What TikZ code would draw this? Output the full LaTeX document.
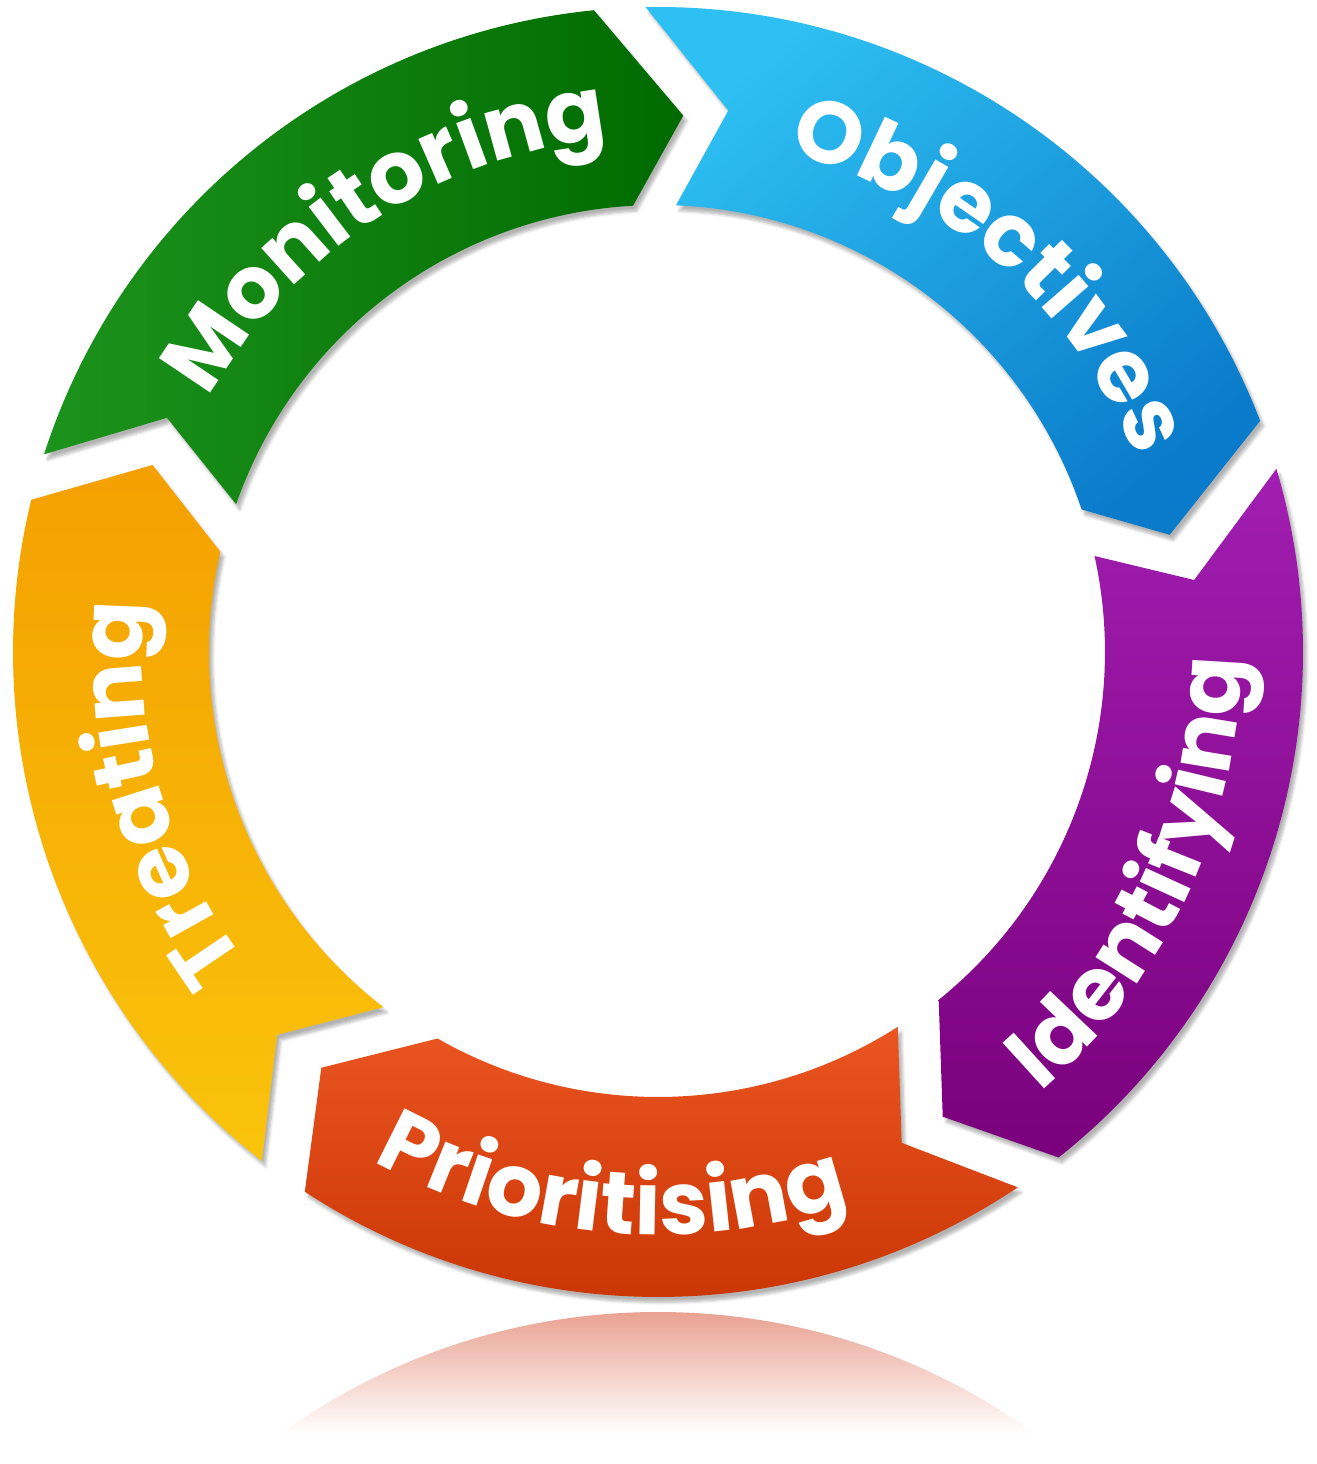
\documentclass[tikz,border=0pt]{standalone}
\usepackage{fontspec}
\setsansfont{Poppins}
\usetikzlibrary{decorations.text,shadows.blur}

\definecolor{monA}{HTML}{1C931C}
\definecolor{monB}{HTML}{006A00}
\definecolor{objA}{HTML}{2EC0F2}
\definecolor{objB}{HTML}{0A7BCA}
\definecolor{idfA}{HTML}{A11EB1}
\definecolor{idfB}{HTML}{7A007D}
\definecolor{priA}{HTML}{EA5522}
\definecolor{priB}{HTML}{C63200}
\definecolor{trtA}{HTML}{F4A000}
\definecolor{trtB}{HTML}{FAC40C}
\definecolor{reflA}{HTML}{E9A292}

\begin{document}
\begin{tikzpicture}[x=0.02cm, y=0.02cm,
        band/.style={blur shadow={shadow xshift=2pt, shadow yshift=-3pt, shadow blur steps=6, shadow opacity=30}},
        label/.style={decorate, decoration={text along path, text align=center, text color=white,
            text={|\sffamily\bfseries\fontsize{50}{50}\selectfont|#1}}}
    ]
        \useasboundingbox (-658,-812) rectangle (658,652);

        % Reflection
        \begin{scope}
            \clip (0,-1305) circle[radius=645];
            \shade[top color=reflA, bottom color=white] (-658,-782) rectangle (658,-660);
        \end{scope}

        % Segments
        \path[band, left color=monA, right color=monB]
            (162.15:645) arc[start angle=162.15, end angle=95.7, radius=645]
            -- (87.3:537) -- (93.2:447) arc[start angle=93.2, end angle=160.7, radius=447]
            -- (154.5:544) -- cycle;

        \path[band, top color=objA, bottom color=objB, shading angle=40]
            (91.1:645) arc[start angle=91.1, end angle=21, radius=645]
            -- (12.9:525) -- (18.6:447) arc[start angle=18.6, end angle=87.7, radius=447]
            -- (82.6:546) -- cycle;

        \path[band, top color=idfA, bottom color=idfB]
            (16.5:645) arc[start angle=16.5, end angle=-51.6, radius=645]
            -- (-58.5:545) -- (-51.1:447) arc[start angle=-51.1, end angle=12.4, radius=447]
            -- (7.65:541) -- cycle;

        \path[band, top color=priA, bottom color=priB]
            (-56.1:645) arc[start angle=-56.1, end angle=-123.2, radius=645]
            -- (-129:535) -- (-119.7:445) arc[start angle=-119.7, end angle=-57.4, radius=445]
            -- (-63.6:548) -- cycle;

        \path[band, top color=trtA, bottom color=trtB]
            (-127.9:645) arc[start angle=-127.9, end angle=-193.65, radius=645]
            -- (-200.3:539) -- (-192.9:449) arc[start angle=-192.9, end angle=-127.7, radius=449]
            -- (-134.85:540) -- cycle;

        % Labels
        \path[label=Monitoring] (163:516) arc[start angle=163, end angle=83, radius=516];
        \path[label=Objectives] (88.8:516) arc[start angle=88.8, end angle=8.8, radius=516];
        \path[label=Identifying] (-64.8:583) arc[start angle=-64.8, end angle=15.2, radius=583];
        \path[label=Prioritising] (-135:583) arc[start angle=-135, end angle=-55, radius=583];
        \path[label=Treating] (235.7:516) arc[start angle=235.7, end angle=155.7, radius=516];
    \end{tikzpicture}
\end{document}
